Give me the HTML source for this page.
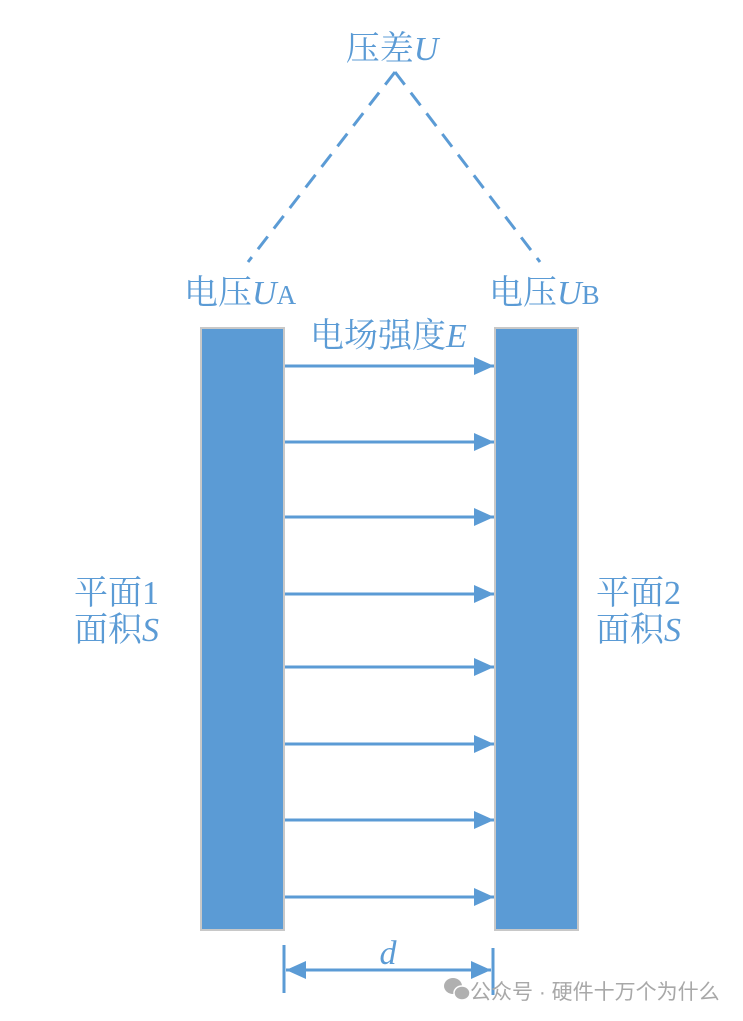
<!DOCTYPE html>
<html><head><meta charset="utf-8"><style>
html,body{margin:0;padding:0;background:#fff;}
svg{display:block}
text{font-family:"Liberation Serif","Noto Serif CJK SC",serif;fill:#5b9bd5;}
.i{font-style:italic}
</style></head><body>
<svg width="743" height="1021" viewBox="0 0 743 1021">
<defs>
<marker id="ah" markerWidth="20" markerHeight="18" refX="20" refY="9" orient="auto" markerUnits="userSpaceOnUse"><path d="M0,0 L20,9 L0,18 Z" fill="#5b9bd5"/></marker>
<marker id="as" markerWidth="20" markerHeight="18" refX="0" refY="9" orient="auto" markerUnits="userSpaceOnUse"><path d="M20,0 L0,9 L20,18 Z" fill="#5b9bd5"/></marker>
</defs>
<text x="392" y="60" font-size="34" text-anchor="middle">压差<tspan class="i">U</tspan></text>
<g stroke="#5b9bd5" stroke-width="3" stroke-dasharray="16,10" fill="none">
<line x1="395" y1="72" x2="248" y2="262"/>
<line x1="395" y1="72" x2="540" y2="262"/>
</g>
<text x="184" y="304" font-size="34">电压<tspan class="i">U</tspan><tspan font-size="27">A</tspan></text>
<text x="489" y="304" font-size="34">电压<tspan class="i">U</tspan><tspan font-size="27">B</tspan></text>
<text x="310" y="347" font-size="34">电场强度<tspan class="i">E</tspan></text>
<rect x="201" y="328" width="83" height="602" fill="#5b9bd5" stroke="#c8c8c8" stroke-width="2"/>
<rect x="495" y="328" width="83" height="602" fill="#5b9bd5" stroke="#c8c8c8" stroke-width="2"/>
<g stroke="#5b9bd5" stroke-width="3">
<line x1="285" y1="366" x2="494" y2="366" marker-end="url(#ah)"/>
<line x1="285" y1="442" x2="494" y2="442" marker-end="url(#ah)"/>
<line x1="285" y1="517" x2="494" y2="517" marker-end="url(#ah)"/>
<line x1="285" y1="594" x2="494" y2="594" marker-end="url(#ah)"/>
<line x1="285" y1="667" x2="494" y2="667" marker-end="url(#ah)"/>
<line x1="285" y1="744" x2="494" y2="744" marker-end="url(#ah)"/>
<line x1="285" y1="820" x2="494" y2="820" marker-end="url(#ah)"/>
<line x1="285" y1="897" x2="494" y2="897" marker-end="url(#ah)"/>
<line x1="284" y1="945" x2="284" y2="993"/>
<line x1="493" y1="948" x2="493" y2="995"/>
<line x1="286" y1="970" x2="491" y2="970" marker-start="url(#as)" marker-end="url(#ah)"/>
</g>
<text x="388" y="964" font-size="34" class="i" text-anchor="middle">d</text>
<text x="74" y="604" font-size="34">平面1</text>
<text x="74" y="641" font-size="34">面积<tspan class="i">S</tspan></text>
<text x="596" y="604" font-size="34">平面2</text>
<text x="596" y="641" font-size="34">面积<tspan class="i">S</tspan></text>
<g fill="#b0b0b0"><ellipse cx="453" cy="986" rx="9" ry="8"/><ellipse cx="462" cy="993" rx="8" ry="7" stroke="#fff" stroke-width="1.5"/></g>
<text x="470" y="999" font-size="21" style="font-family:'Liberation Sans','Noto Sans CJK SC',sans-serif;fill:#a8a8a8">公众号 · 硬件十万个为什么</text>
</svg>
</body></html>
